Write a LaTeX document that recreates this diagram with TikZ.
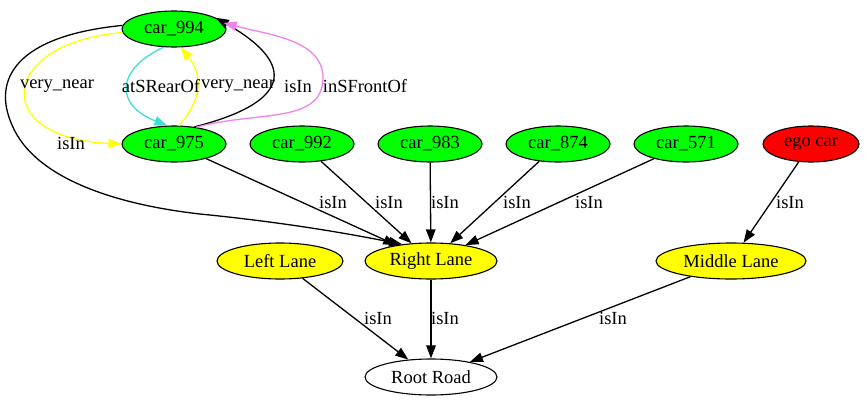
\documentclass[tikz,border=0pt]{standalone}
\usepackage{fontspec}
\setmainfont{Liberation Serif}
\usetikzlibrary{shapes.geometric,arrows.meta}
\definecolor{gvgreen}{HTML}{00FF00}
\definecolor{gvred}{HTML}{FF0000}
\definecolor{gvyellow}{HTML}{FFFF00}
\definecolor{gvturq}{HTML}{40E0D0}
\definecolor{gvviolet}{HTML}{EE82EE}
\tikzset{
  gnode/.style={ellipse,draw=black,line width=1.1pt,inner sep=0pt,minimum height=36pt,
    font=\fontsize{18.5pt}{20pt}\selectfont},
  car/.style={gnode,fill=gvgreen,minimum width=104pt},
  lane/.style={gnode,fill=gvyellow},
  rel/.style={line width=1.3pt,-{Triangle[length=13pt,width=9.5pt]}},
  lbl/.style={inner sep=0pt,font=\fontsize{18.5pt}{20pt}\selectfont}
}
\begin{document}
\begin{tikzpicture}[x=1pt,y=-1pt]
\useasboundingbox (0,0) rectangle (865,407);
% nodes
\node[car] (c994) at (174,29) {car\_994};
\node[car] (c975) at (174,144) {car\_975};
\node[car] (c992) at (302,144) {car\_992};
\node[car] (c983) at (430,144) {car\_983};
\node[car] (c874) at (558,144) {car\_874};
\node[car] (c571) at (686,144) {car\_571};
\node[gnode,fill=gvred,minimum width=96pt] (ego) at (811,144) {ego car};
\node[lane,minimum width=126pt] (left) at (280,261) {Left Lane};
\node[lane,minimum width=132pt] (right) at (431,261) {Right Lane};
\node[lane,minimum width=150pt] (middle) at (731,261) {Middle Lane};
\node[gnode,minimum width=132pt] (root) at (431,377) {Root Road};
% relations between car_994 and car_975
\draw[rel,color=gvyellow] (c994.184) .. controls (0,42) and (-12,138) .. (c975.west);
\draw[rel,color=gvturq] (c994.240) .. controls (115,70) and (115,105) .. (c975.110);
\draw[rel,color=gvyellow] (c975.75) .. controls (202,100) and (203,75) .. (c994.290);
\draw[rel] (c975.40) .. controls (300,100) and (290,60) .. (c994.15);
\draw[rel,color=gvviolet] (c975.37) .. controls (260,110) and (325,125) .. (323,75)
  .. controls (320,40) and (270,35) .. (c994.7);
\draw[rel] (c994.176) .. controls (15,36) and (-8,80) .. (12,125)
  .. controls (35,180) and (120,205) .. (200,214)
  .. controls (280,222) and (340,232) .. (right.150);
\node[lbl] (l1) at (57,86) {very\_near};
\node[lbl] (l2) at (161,86) {atSRearOf};
\node[lbl] (l3) at (238,86) {very\_near};
\node[lbl] (l4) at (298,86) {isIn};
\node[lbl] (l5) at (365,86) {inSFrontOf};
\node[lbl] (l6) at (71,143) {isIn};
% cars to lanes
\draw[rel] (c975) -- (right);
\draw[rel] (c992) -- (right);
\draw[rel] (c983) -- (right);
\draw[rel] (c874) -- (right);
\draw[rel] (c571) -- (right);
\draw[rel] (ego) -- (middle);
\node[lbl] (l7) at (333,202) {isIn};
\node[lbl] (l8) at (389,202) {isIn};
\node[lbl] (l9) at (445,202) {isIn};
\node[lbl] (l10) at (517,202) {isIn};
\node[lbl] (l11) at (589,202) {isIn};
\node[lbl] (l12) at (790,202) {isIn};
% lanes to road
\draw[rel] (left) -- (root);
\draw[rel] (right) -- (root);
\draw[rel] (middle) -- (root);
\node[lbl] (l13) at (378,318) {isIn};
\node[lbl] (l14) at (445,318) {isIn};
\node[lbl] (l15) at (613,318) {isIn};
\end{tikzpicture}
\end{document}
